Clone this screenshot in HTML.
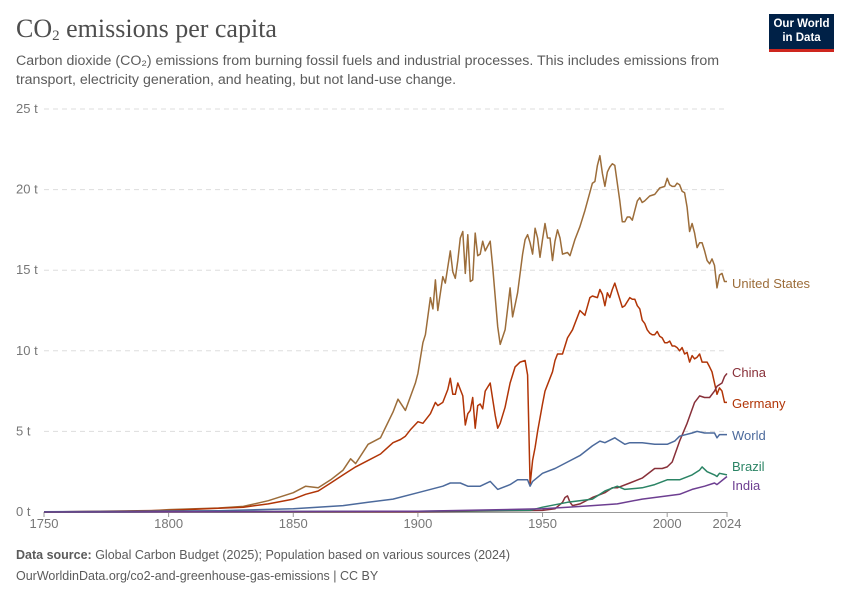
<!DOCTYPE html>
<html><head><meta charset="utf-8"><style>
body{margin:0;width:850px;height:600px;background:#fff;font-family:"Liberation Sans",sans-serif;overflow:hidden;position:relative}
.t{position:absolute;left:16px;top:14px;font-family:"Liberation Serif",serif;font-size:26px;color:#4e4e4e}
.t sub{font-size:15px;vertical-align:-3px;line-height:0}
.s{position:absolute;left:16px;top:52px;width:740px;font-size:14.2px;line-height:19px;color:#5b5b5b}
.logo{position:absolute;left:769px;top:14px;width:65px;height:38px;background:#002147;border-bottom:3px solid #ce261e;color:#fff;font-size:11.5px;font-weight:bold;text-align:center;line-height:14px;padding-top:3px;box-sizing:border-box}
.f{position:absolute;left:16px;font-size:12.5px;color:#5b5b5b}
</style></head><body>
<div class="t">CO<sub>2</sub> emissions per capita</div>
<div class="s">Carbon dioxide (CO₂) emissions from burning fossil fuels and industrial processes. This includes emissions from transport, electricity generation, and heating, but not land-use change.</div>
<div class="logo">Our World<br>in Data</div>
<svg id="c" width="850" height="600" style="position:absolute;left:0;top:0"></svg>
<div class="f" style="top:548px"><b>Data source:</b> Global Carbon Budget (2025); Population based on various sources (2024)</div>
<div class="f" style="top:569px">OurWorldinData.org/co2-and-greenhouse-gas-emissions | CC BY</div>
<script>
const yTicks=[0,5,10,15,20,25];
const xTicks=[1750,1800,1850,1900,1950,2000,2024];
const usData=[[1750,0],[1790,0.05],[1800,0.15],[1820,0.25],[1830,0.35],[1840,0.7],[1850,1.2],[1855,1.6],[1860,1.5],[1865,2.0],[1870,2.6],[1873,3.3],[1875,3.0],[1880,4.2],[1885,4.6],[1890,6.2],[1892,7.0],[1895,6.3],[1899,8.0],[1900,8.6],[1902,10.5],[1903,11.0],[1905,13.3],[1906,12.6],[1907,14.4],[1908,12.5],[1910,14.6],[1911,14.2],[1913,16.2],[1914,14.9],[1915,14.5],[1916,15.6],[1917,17.0],[1918,17.4],[1919,14.8],[1920,17.2],[1921,14.3],[1922,14.4],[1923,17.3],[1924,15.9],[1925,16.0],[1926,16.8],[1927,16.2],[1929,16.8],[1930,15.2],[1932,11.5],[1933,10.4],[1935,11.3],[1936,12.6],[1937,13.9],[1938,12.1],[1940,13.6],[1942,16.0],[1943,16.9],[1944,17.2],[1945,16.7],[1946,16.0],[1947,17.6],[1948,17.0],[1949,15.8],[1950,16.9],[1951,17.9],[1952,17.0],[1953,17.0],[1954,15.6],[1955,16.8],[1956,17.5],[1957,17.0],[1958,16.0],[1960,16.1],[1961,15.9],[1963,16.9],[1965,17.7],[1967,18.7],[1970,20.4],[1971,20.5],[1972,21.5],[1973,22.1],[1974,21.0],[1975,20.2],[1976,21.1],[1977,21.4],[1978,21.6],[1979,21.5],[1980,20.4],[1981,19.3],[1982,18.0],[1983,18.0],[1984,18.3],[1985,18.3],[1986,18.1],[1988,19.3],[1989,19.5],[1990,19.2],[1991,19.3],[1993,19.6],[1995,19.7],[1997,20.1],[1999,20.2],[2000,20.7],[2001,20.3],[2002,20.2],[2003,20.2],[2004,20.4],[2005,20.3],[2006,19.9],[2007,19.8],[2008,18.9],[2009,17.4],[2010,17.9],[2011,17.3],[2012,16.4],[2013,16.7],[2014,16.7],[2015,16.2],[2016,15.6],[2017,15.4],[2018,15.7],[2019,15.3],[2020,13.9],[2021,14.7],[2022,14.8],[2023,14.3],[2024,14.3]];
const deData=[[1750,0],[1800,0.1],[1830,0.3],[1840,0.5],[1850,0.8],[1855,1.1],[1860,1.3],[1865,1.8],[1870,2.3],[1875,2.8],[1880,3.2],[1885,3.6],[1890,4.3],[1893,4.5],[1895,4.7],[1897,5.1],[1900,5.6],[1902,5.5],[1905,6.1],[1907,6.8],[1908,6.6],[1910,6.8],[1912,7.6],[1913,8.3],[1914,7.3],[1915,7.3],[1916,8.0],[1917,7.6],[1918,7.2],[1919,5.4],[1920,6.1],[1921,6.3],[1922,7.1],[1923,5.2],[1924,6.6],[1925,6.7],[1926,6.4],[1927,7.5],[1929,8.0],[1930,7.0],[1931,6.0],[1932,5.2],[1933,5.5],[1935,6.5],[1937,8.0],[1939,9.0],[1941,9.3],[1943,9.4],[1944,8.5],[1945,1.7],[1946,3.2],[1947,4.0],[1948,5.0],[1950,6.7],[1951,7.5],[1952,7.9],[1954,8.7],[1955,9.4],[1956,9.8],[1958,9.8],[1960,10.8],[1962,11.3],[1965,12.5],[1967,12.2],[1969,13.3],[1970,13.4],[1972,13.3],[1973,13.8],[1974,13.5],[1975,12.8],[1976,13.6],[1977,13.3],[1978,13.8],[1979,14.2],[1980,13.7],[1981,13.2],[1982,12.7],[1983,12.8],[1985,13.3],[1986,13.2],[1987,13.2],[1988,12.8],[1989,12.6],[1990,11.9],[1991,11.7],[1992,11.3],[1993,11.1],[1994,11.0],[1995,11.0],[1996,11.2],[1997,10.9],[1998,10.8],[1999,10.5],[2000,10.5],[2001,10.6],[2002,10.3],[2003,10.3],[2004,10.2],[2005,10.0],[2006,10.2],[2007,9.8],[2008,9.9],[2009,9.3],[2010,9.7],[2011,9.5],[2012,9.6],[2013,9.8],[2014,9.3],[2015,9.3],[2016,9.3],[2017,9.0],[2018,8.7],[2019,8.0],[2020,7.3],[2021,7.7],[2022,7.5],[2023,6.8],[2024,6.8]];
const cnData=[[1750,0],[1900,0.02],[1950,0.1],[1955,0.2],[1958,0.6],[1959,0.9],[1960,1.0],[1961,0.6],[1962,0.4],[1965,0.5],[1970,0.9],[1975,1.2],[1978,1.5],[1980,1.5],[1985,1.8],[1990,2.1],[1995,2.7],[1998,2.7],[2000,2.8],[2002,3.1],[2005,4.4],[2008,5.5],[2011,6.8],[2013,7.2],[2015,7.1],[2017,7.1],[2019,7.5],[2020,7.8],[2022,8.0],[2023,8.4],[2024,8.6]];
const worldData=[[1750,0.01],[1800,0.06],[1820,0.08],[1850,0.2],[1870,0.4],[1880,0.6],[1890,0.8],[1900,1.2],[1910,1.6],[1913,1.8],[1917,1.8],[1920,1.6],[1925,1.6],[1929,1.9],[1932,1.4],[1937,1.7],[1940,2.0],[1944,2.0],[1945,1.6],[1946,1.9],[1950,2.4],[1955,2.7],[1960,3.1],[1965,3.5],[1970,4.1],[1973,4.4],[1975,4.3],[1979,4.6],[1980,4.5],[1983,4.2],[1985,4.3],[1990,4.3],[1995,4.2],[2000,4.2],[2003,4.4],[2005,4.7],[2010,4.9],[2012,5.0],[2015,4.9],[2019,4.9],[2020,4.6],[2021,4.8],[2024,4.8]];
const brData=[[1750,0],[1900,0.05],[1945,0.1],[1950,0.3],[1960,0.6],[1970,0.8],[1975,1.3],[1980,1.6],[1983,1.4],[1990,1.5],[1995,1.7],[2000,2.0],[2005,2.0],[2010,2.3],[2013,2.6],[2014,2.8],[2016,2.5],[2019,2.3],[2020,2.2],[2021,2.4],[2024,2.3]];
const inData=[[1750,0],[1900,0.05],[1950,0.2],[1960,0.3],[1970,0.4],[1980,0.5],[1990,0.8],[2000,1.0],[2005,1.1],[2010,1.4],[2015,1.6],[2019,1.8],[2020,1.7],[2024,2.2]];
const seriesNames=["United States","Germany","China","World","Brazil","India"];
const seriesColors=["#9c6d3a","#b13507","#883039","#4c6a9c","#2b8465","#6d3e91"];
const seriesData=[usData,deData,cnData,worldData,brData,inData];
const labelY=[284,404,373,436,467,486];
const X=y=>44+(y-1750)*(683/274);
const Y=v=>512-v*16.12;
const svg=document.getElementById('c');
const NS='http://www.w3.org/2000/svg';
function mk(tag,attrs){const e=document.createElementNS(NS,tag);for(const k in attrs)e.setAttribute(k,attrs[k]);svg.appendChild(e);return e;}
yTicks.forEach(t=>{
  if(t>0){const l=mk('line',{x1:44,x2:727,y1:Y(t),y2:Y(t),stroke:'#ddd','stroke-dasharray':'5,4'});
  
  }
  const tx=mk('text',{x:16,y:Y(t)+4,'font-size':13,fill:'#777'});tx.textContent=t+' t';
  
  
});
const ax=mk('line',{x1:44,x2:727,y1:512.5,y2:512.5,stroke:'#999'});


xTicks.forEach(t=>{
  const tk=mk('line',{x1:X(t),x2:X(t),y1:512,y2:517,stroke:'#999'});
  
  
  const tx=mk('text',{x:X(t),y:528,'font-size':13,fill:'#777','text-anchor':'middle'});tx.textContent=t;
  
  
});
seriesData.forEach((d,i)=>{
  const p=mk('path',{d:d.map((pt,j)=>(j?'L':'M')+X(pt[0]).toFixed(1)+','+Y(pt[1]).toFixed(1)).join(''),fill:'none',stroke:seriesColors[i],'stroke-width':1.5,'stroke-linejoin':'round'});
  
  
  const tx=mk('text',{x:732,y:labelY[i]+4,'font-size':13,fill:seriesColors[i]});tx.textContent=seriesNames[i];
  
  
});
</script>
</body></html>
